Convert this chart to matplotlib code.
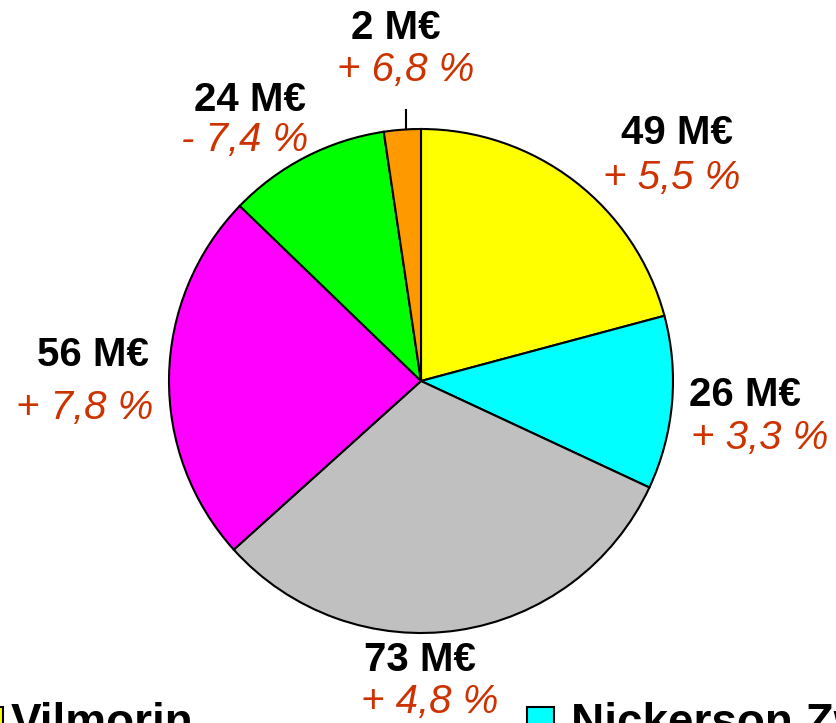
import matplotlib.pyplot as plt
from matplotlib.patches import Rectangle

# slice shares (degrees of the circle)
shares = [75, 40, 113, 86, 37.5, 8.5]
colors = ['#FFFF00', '#00FFFF', '#C0C0C0', '#FF00FF', '#00FF00', '#FF9900']
amounts = ['49 M€', '26 M€', '73 M€', '56 M€', '24 M€', '2 M€']
growth = ['+ 5,5 %', '+ 3,3 %', '+ 4,8 %', '+ 7,8 %', '- 7,4 %', '+ 6,8 %']

legend_names = ['Vilmorin', 'Nickerson Zwaan']
legend_colors = ['#FFFF00', '#00FFFF']

W, H = 837, 723
fig = plt.figure(figsize=(W / 100, H / 100), dpi=100)
ax = fig.add_axes([0, 0, 1, 1])

plt.rcParams['font.family'] = ['Liberation Sans', 'DejaVu Sans']

ax.pie(shares, colors=colors, startangle=90, counterclock=False,
       center=(421, H - 381), radius=252, frame=True,
       wedgeprops=dict(edgecolor='black', linewidth=1.5))
ax.set_xlim(0, W)
ax.set_ylim(0, H)
ax.set_aspect('auto')
ax.axis('off')

# label positions in pixels (x, y of amount; x, y of growth)
pos = [((677, 133), (672, 178)),
       ((745, 395), (760, 438)),
       ((420, 660), (430, 702)),
       ((93, 355), (85, 408)),
       ((250, 100), (245, 140)),
       ((396, 28), (406, 70))]

red = '#CC3300'
for (a, g), amt, gr in zip(pos, amounts, growth):
    ax.text(a[0], H - a[1], amt, ha='center', va='center',
            fontsize=29, fontweight='bold', color='black')
    ax.text(g[0], H - g[1], gr, ha='center', va='center',
            fontsize=29, fontstyle='italic', color=red)

# leader line to the small slice
ax.plot([406, 406], [H - 129, H - 110], color='black', lw=1.5)

# legend (cut off at the bottom edge, as in the original)
for x_box, x_txt, name, c in zip([-24, 527], [11, 571], legend_names, legend_colors):
    ax.add_patch(Rectangle((x_box, H - 734), 27, 27, facecolor=c,
                           edgecolor='black', lw=1.5, clip_on=False))
    ax.text(x_txt, H - 702, name, ha='left', va='top', fontsize=33,
            fontweight='bold', color='black')

fig.savefig('out.png', dpi=100)
